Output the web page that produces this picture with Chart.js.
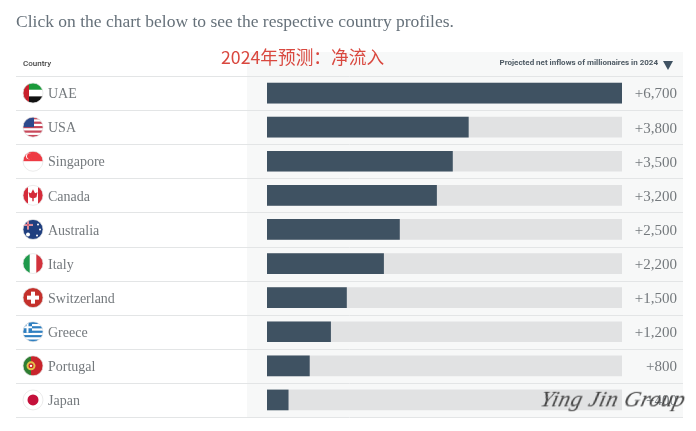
<!DOCTYPE html>
<html>
<head>
<meta charset="utf-8">
<title>Projected net inflows of millionaires in 2024</title>
<script src="https://cdn.jsdelivr.net/npm/chart.js@4"></script>
<style>
  html, body { margin: 0; padding: 0; background: #fff; }
  #wrap { position: relative; width: 696px; height: 431px; overflow: hidden; }
  canvas { position: absolute; left: 0; top: 0; }
  .txt { position: absolute; white-space: nowrap; }
  #intro { left: 16px; top: 11px; font: 17.5px "Liberation Serif", serif; color: #66717a; }
  #headLeft { left: 23px; top: 59px; font: 500 8px Roboto, sans-serif; color: #444; }
  #headRight { right: 38px; top: 58px; font: 700 8px Roboto, sans-serif; color: #4d5963; }
  #arrow { left: 663px; top: 61px; width: 0; height: 0; border-left: 5px solid transparent; border-right: 5px solid transparent; border-top: 9px solid #3f5262; }
  #note { left: 221px; top: 43px; font: 17.7px "Noto Sans CJK SC", sans-serif; color: #d9483f; }
  #mark { left: 541px; top: 386px; font: italic 22.5px "Liberation Serif", serif; color: #444; letter-spacing: 0.6px; transform: skewX(-14deg); }
</style>
</head>
<body>
<div id="wrap">
  <canvas id="chart" width="696" height="431"></canvas>
  <div class="txt" id="intro">Click on the chart below to see the respective country profiles.</div>
  <div class="txt" id="headLeft">Country</div>
  <div class="txt" id="headRight">Projected net inflows of millionaires in 2024</div>
  <div class="txt" id="arrow"></div>
  <div class="txt" id="note">2024年预测：净流入</div>
  <div class="txt" id="mark">Ying Jin Group</div>
</div>
<script>
/* ---------- DATA ---------- */
const countries = ["UAE", "USA", "Singapore", "Canada", "Australia", "Italy", "Switzerland", "Greece", "Portugal", "Japan"];
const inflows = [6700, 3800, 3500, 3200, 2500, 2200, 1500, 1200, 800, 400];
const trackValues = [6700, 6700, 6700, 6700, 6700, 6700, 6700, 6700, 6700, 6700];
const valueLabels = ["+6,700", "+3,800", "+3,500", "+3,200", "+2,500", "+2,200", "+1,500", "+1,200", "+800", "+400"];

/* ---------- FLAGS (plain stripes / shapes in a 10px radius circle) ---------- */
function hStripes(ctx, cols) {
    const h = 20 / cols.length;
    cols.forEach((c, i) => { ctx.fillStyle = c; ctx.fillRect(-10, -10 + i * h, 20, h + 0.5); });
}
function vStripes(ctx, cols, widths) {
    let x = -10;
    cols.forEach((c, i) => { ctx.fillStyle = c; ctx.fillRect(x, -10, widths[i] + 0.5, 20); x += widths[i]; });
}
function box(ctx, c, x, y, w, h) { ctx.fillStyle = c; ctx.fillRect(x, y, w, h); }
function dot(ctx, c, x, y, r) { ctx.fillStyle = c; ctx.beginPath(); ctx.arc(x, y, r, 0, Math.PI * 2); ctx.fill(); }

const flags = {
    UAE(ctx) {
        hStripes(ctx, ["#1a9a3a", "#fff", "#111"]);
        box(ctx, "#c8202c", -10, -10, 6, 20);
    },
    USA(ctx) {
        hStripes(ctx, ["#c8485a", "#fff", "#c8485a", "#fff", "#c8485a", "#fff", "#c8485a", "#fff", "#c8485a"]);
        box(ctx, "#2d4a8c", -10, -10, 11, 10);
    },
    Singapore(ctx) {
        hStripes(ctx, ["#ee3a43", "#fff"]);
        dot(ctx, "#fff", -4, -5, 3);
        dot(ctx, "#ee3a43", -3, -5, 3);
    },
    Canada(ctx) {
        vStripes(ctx, ["#d52b3a", "#fff", "#d52b3a"], [5, 10, 5]);
        ctx.fillStyle = "#d52b3a";
        ctx.beginPath();
        ctx.moveTo(0, -6); ctx.lineTo(2, -2); ctx.lineTo(4.5, -3); ctx.lineTo(3.5, 2);
        ctx.lineTo(0.7, 3); ctx.lineTo(0.7, 6); ctx.lineTo(-0.7, 6); ctx.lineTo(-0.7, 3);
        ctx.lineTo(-3.5, 2); ctx.lineTo(-4.5, -3); ctx.lineTo(-2, -2);
        ctx.closePath();
        ctx.fill();
    },
    Australia(ctx) {
        box(ctx, "#1f3f7f", -10, -10, 20, 20);
        box(ctx, "#e8e8ee", -10, -5.5, 10, 2);
        box(ctx, "#e8e8ee", -6, -10, 2, 10);
        box(ctx, "#d0344a", -10, -5, 10, 1);
        box(ctx, "#d0344a", -5.5, -10, 1, 10);
        dot(ctx, "#fff", -5, 5, 2);
        dot(ctx, "#fff", 5, -5, 1);
        dot(ctx, "#fff", 7, 0, 1);
        dot(ctx, "#fff", 4, 6, 1);
    },
    Italy(ctx) { vStripes(ctx, ["#1f9a4c", "#fff", "#d2323c"], [6.7, 6.6, 6.7]); },
    Switzerland(ctx) {
        box(ctx, "#c4302b", -10, -10, 20, 20);
        box(ctx, "#fff", -6, -2, 12, 4);
        box(ctx, "#fff", -2, -6, 4, 12);
    },
    Greece(ctx) {
        hStripes(ctx, ["#2f7fc0", "#fff", "#2f7fc0", "#fff", "#2f7fc0", "#fff", "#2f7fc0", "#fff", "#2f7fc0"]);
        box(ctx, "#2f7fc0", -10, -10, 9, 11);
        box(ctx, "#fff", -6.5, -10, 2, 11);
        box(ctx, "#fff", -10, -5.5, 9, 2);
    },
    Portugal(ctx) {
        vStripes(ctx, ["#2e7d32", "#c8242c"], [8, 12]);
        dot(ctx, "#e3c24a", -2, 0, 4.5);
        dot(ctx, "#c8242c", -2, 0, 2.5);
        dot(ctx, "#fff", -2, 0, 1.2);
    },
    Japan(ctx) {
        box(ctx, "#fff", -10, -10, 20, 20);
        dot(ctx, "#c4103a", 0, 0, 5.5);
    }
};

/* ---------- BACKGROUND PANEL + ROW LINES ---------- */
const tablePlugin = {
    id: "table",
    beforeDraw(chart) {
        const ctx = chart.ctx;
        const { top, bottom } = chart.chartArea;
        const rowH = (bottom - top) / countries.length;
        ctx.save();
        ctx.fillStyle = "#f7f8f8";
        ctx.fillRect(247, 52, 436, bottom - 52);
        ctx.strokeStyle = "#e3e5e6";
        ctx.lineWidth = 1;
        for (let i = 0; i <= countries.length; i++) {
            const y = Math.round(top + i * rowH) + 0.5;
            ctx.beginPath();
            ctx.moveTo(16, y);
            ctx.lineTo(683, y);
            ctx.stroke();
        }
        ctx.restore();
    },
    afterDraw(chart) {
        const ctx = chart.ctx;
        const yScale = chart.scales.y;
        countries.forEach((name, i) => {
            ctx.save();
            ctx.translate(33, yScale.getPixelForValue(i));
            ctx.beginPath();
            ctx.arc(0, 0, 10, 0, Math.PI * 2);
            ctx.clip();
            flags[name](ctx);
            ctx.restore();
            ctx.save();
            ctx.strokeStyle = "#e2e2e2";
            ctx.lineWidth = 0.7;
            ctx.beginPath();
            ctx.arc(33, yScale.getPixelForValue(i), 10, 0, Math.PI * 2);
            ctx.stroke();
            ctx.restore();
        });
    }
};

// the serif sits a bit high on a middle baseline, nudge only the tick text
function nudgeTicks(scale) {
    const orig = scale.getPixelForTick;
    scale.getPixelForTick = (i) => orig.call(scale, i) + 1.5;
}

/* ---------- CHART ---------- */
new Chart(document.getElementById("chart"), {
    type: "bar",
    data: {
        labels: countries,
        datasets: [
            {
                label: "Projected net inflows",
                data: inflows,
                backgroundColor: "#3f5262",
                barThickness: 20,
                grouped: false,
                order: 1
            },
            {
                label: "Track",
                data: trackValues,
                backgroundColor: "#e1e2e3",
                barThickness: 20,
                grouped: false,
                order: 2
            }
        ]
    },
    options: {
        indexAxis: "y",
        responsive: false,
        animation: false,
        layout: { padding: { left: 48, right: 19, top: 76, bottom: 14 } },
        plugins: { legend: { display: false }, tooltip: { enabled: false } },
        scales: {
            x: { display: false, min: 0, max: 6700 },
            y: {
                position: "left",
                grid: { display: false },
                border: { display: false },
                afterFit(scale) { scale.width = 219; },
                afterDataLimits: nudgeTicks,
                ticks: {
                    crossAlign: "far",
                    padding: 0,
                    color: "#74797d",
                    font: { family: "'Liberation Serif', serif", size: 14 }
                }
            },
            yRight: {
                type: "category",
                position: "right",
                labels: valueLabels,
                grid: { display: false },
                border: { display: false },
                afterFit(scale) { scale.width = 55; },
                afterDataLimits: nudgeTicks,
                ticks: {
                    crossAlign: "far",
                    padding: 0,
                    color: "#74797d",
                    font: { family: "'Liberation Serif', serif", size: 15 }
                }
            }
        }
    },
    plugins: [tablePlugin]
});
</script>
</body>
</html>
